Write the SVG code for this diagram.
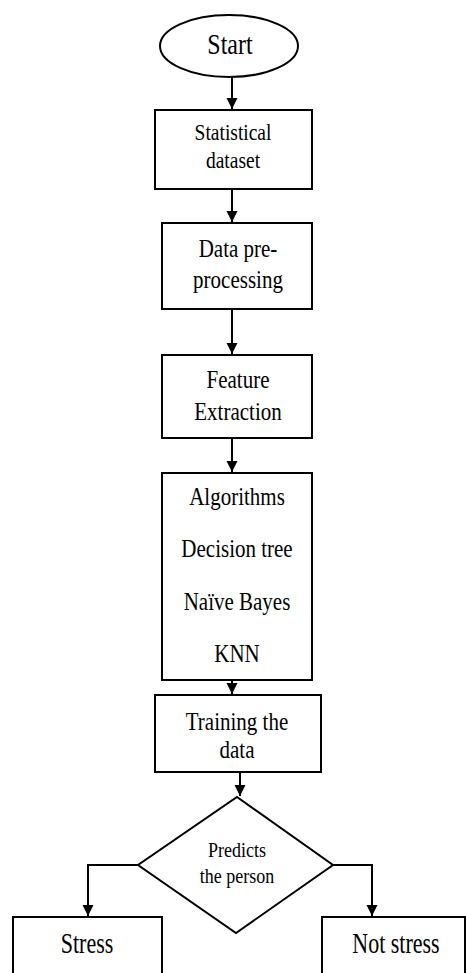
<svg xmlns="http://www.w3.org/2000/svg" width="466" height="973" viewBox="0 0 466 973">
<style>
.shape{fill:#fff;stroke:#000;stroke-width:2}
.conn{fill:none;stroke:#000;stroke-width:2}
.t{font-family:'Liberation Serif','DejaVu Serif',serif;font-size:21px;fill:#000;text-anchor:middle}
.s{font-size:18px}
.m{font-size:19.5px}
</style>
<defs>
<marker id="ah" viewBox="0 0 10 10" refX="10" refY="5" markerWidth="11" markerHeight="12" markerUnits="userSpaceOnUse" orient="auto">
<path d="M0,0 L10,5 L0,10 z" fill="#000"/>
</marker>
</defs>
<rect width="466" height="973" fill="#fff"/>
<g id="connectors">
<path class="conn" d="M232,77 V109" marker-end="url(#ah)"/>
<path class="conn" d="M232,189 V222" marker-end="url(#ah)"/>
<path class="conn" d="M232,309 V354" marker-end="url(#ah)"/>
<path class="conn" d="M232,438 V472" marker-end="url(#ah)"/>
<path class="conn" d="M232,680 V694" marker-end="url(#ah)"/>
<path class="conn" d="M240,772 V796" marker-end="url(#ah)"/>
<path class="conn" d="M138,865 H88 V916" marker-end="url(#ah)"/>
<path class="conn" d="M333,865 H372 V916" marker-end="url(#ah)"/>
</g>
<g id="start">
<ellipse class="shape" cx="229" cy="46" rx="69" ry="31"/>
<text class="t" transform="translate(230,54) scale(1,1.25)" style="font-size:24px">Start</text>
</g>
<g id="dataset">
<rect class="shape" x="155" y="110" width="157" height="79"/>
<text class="t m" transform="translate(233,140) scale(1,1.15)">Statistical</text>
<text class="t m" transform="translate(233,168) scale(1,1.15)">dataset</text>
</g>
<g id="preprocessing">
<rect class="shape" x="162" y="223" width="150" height="86"/>
<text class="t" transform="translate(238,257) scale(1,1.2)">Data pre-</text>
<text class="t" transform="translate(238,288) scale(1,1.2)">processing</text>
</g>
<g id="feature">
<rect class="shape" x="162" y="355" width="150" height="83"/>
<text class="t" transform="translate(238,388) scale(1,1.2)">Feature</text>
<text class="t" transform="translate(238,420) scale(1,1.2)">Extraction</text>
</g>
<g id="algorithms">
<rect class="shape" x="162" y="473" width="150" height="207"/>
<text class="t" transform="translate(237,505) scale(1,1.2)">Algorithms</text>
<text class="t" transform="translate(237,557) scale(1,1.2)">Decision tree</text>
<text class="t" transform="translate(237,610) scale(1,1.2)">Naïve Bayes</text>
<text class="t" transform="translate(237,662) scale(1,1.2)">KNN</text>
</g>
<g id="training">
<rect class="shape" x="155" y="695" width="166" height="77"/>
<text class="t" transform="translate(237,730) scale(1,1.2)">Training the</text>
<text class="t" transform="translate(237,758) scale(1,1.2)">data</text>
</g>
<g id="predicts">
<polygon class="shape" points="237,797 333,865 236,933 138,865"/>
<text class="t s" transform="translate(237,857) scale(1,1.2)">Predicts</text>
<text class="t s" transform="translate(237,883) scale(1,1.2)">the person</text>
</g>
<g id="stress">
<rect class="shape" x="13" y="917" width="149" height="64"/>
<text class="t" transform="translate(87,953) scale(1,1.3)" style="font-size:22px">Stress</text>
</g>
<g id="notstress">
<rect class="shape" x="322" y="917" width="143" height="64"/>
<text class="t" transform="translate(396,953) scale(1,1.3)" style="font-size:22px">Not stress</text>
</g>
</svg>
